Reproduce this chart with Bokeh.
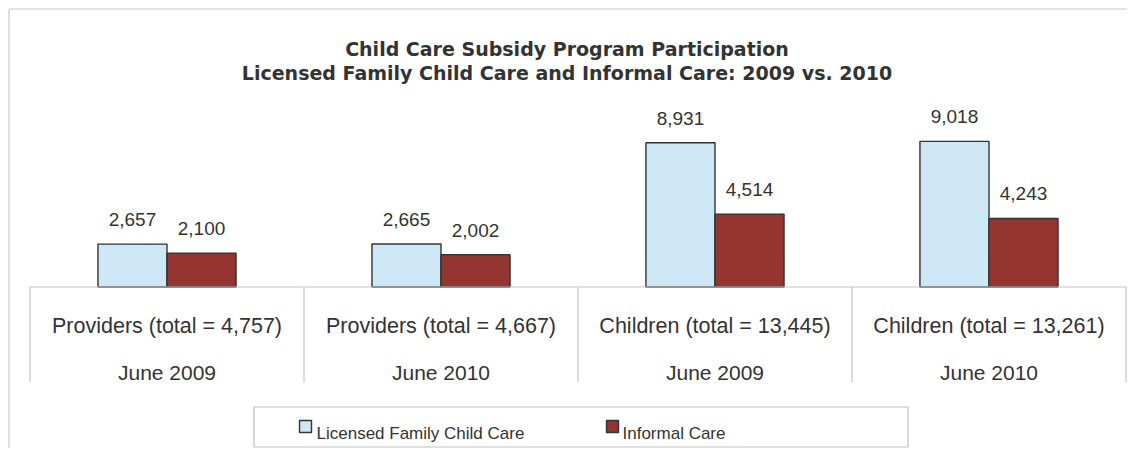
from bokeh.plotting import figure
from bokeh.models import Range1d, ColumnDataSource, LabelSet
from bokeh.core.properties import value
from bokeh.embed import file_html
from bokeh.resources import INLINE
import numpy as np

# ---- data ----
title_lines = ["Child Care Subsidy Program Participation",
               "Licensed Family Child Care and Informal Care: 2009 vs. 2010"]
measures = ["Providers (total = 4,757)", "Providers (total = 4,667)",
            "Children (total = 13,445)", "Children (total = 13,261)"]
periods = ["June 2009", "June 2010", "June 2009", "June 2010"]
series_names = ["Licensed Family Child Care", "Informal Care"]
licensed = [2657, 2665, 8931, 9018]
informal = [2100, 2002, 4514, 4243]

# ---- style ----
TEXT = "#333333"
BLUE = "#cde7f5"
RED = "#943532"
EDGE = "#333333"
GRID = "#c4c4c4"
FONT = "Liberation Sans"

W, H = 1127, 448
p = figure(width=W, height=H,
           x_range=Range1d(-0.1077, 4.0055),
           y_range=Range1d(-10000, 17740),
           output_backend="svg", toolbar_location=None, min_border=0)
p.axis.visible = False
p.grid.visible = False
p.outline_line_color = None
p.background_fill_color = "white"
p.border_fill_color = "white"
# canvas-pixel helper ranges for layout elements (title, table, legend)
p.extra_x_ranges = {"px": Range1d(0, W)}
p.extra_y_ranges = {"px": Range1d(H, 0)}

n = len(measures)
centers = np.arange(n) + 0.5
bw = 0.252
src = ColumnDataSource(dict(
    xb=centers - bw / 2, xr=centers + bw / 2,
    lic=licensed, inf=informal,
    lic_t=[f"{v:,}" for v in licensed], inf_t=[f"{v:,}" for v in informal],
))

# outer border (top and left visible)
p.segment(x0=[8.5, 8.5], y0=[8.5, 8.5], x1=[W, 8.5], y1=[8.5, H],
          x_range_name="px", y_range_name="px", line_color="#c8c8c8", line_width=1.2)

# bars
p.vbar(x="xb", top="lic", bottom=0, width=bw, source=src,
       fill_color=BLUE, line_color=EDGE, line_width=1.4)
p.vbar(x="xr", top="inf", bottom=0, width=bw, source=src,
       fill_color=RED, line_color=EDGE, line_width=1.4)

# value labels
for xcol, tcol, ycol in (("xb", "lic_t", "lic"), ("xr", "inf_t", "inf")):
    p.add_layout(LabelSet(x=xcol, y=ycol, text=tcol, source=src, y_offset=18,
                          text_align="center", text_baseline="alphabetic",
                          text_font=value(FONT), text_font_size="19px",
                          text_color=TEXT))

# category table
p.segment(x0=[0], y0=[0], x1=[n], y1=[0], line_color=GRID, line_width=1.2)
bounds = np.arange(n + 1)
p.segment(x0=bounds, y0=[286.5] * (n + 1), x1=bounds, y1=[382] * (n + 1),
          y_range_name="px", line_color=GRID, line_width=1.2)
p.text(x=centers, y=[325] * n, text=measures, y_range_name="px",
       text_align="center", text_baseline="alphabetic",
       text_font=value(FONT), text_font_size="21.5px", text_color=TEXT)
p.text(x=centers, y=[372] * n, text=periods, y_range_name="px",
       text_align="center", text_baseline="alphabetic",
       text_font=value(FONT), text_font_size="21px", text_color=TEXT)

# title
p.text(x=[566.5, 566.5], y=[48.5, 72.5], text=title_lines,
       x_range_name="px", y_range_name="px",
       text_align="center", text_baseline="alphabetic",
       text_font=value("DejaVu Sans"), text_font_style="bold",
       text_font_size="19px", text_color=TEXT)

# legend
p.quad(left=[253.5], right=[907.5], top=[406.5], bottom=[446.5],
       x_range_name="px", y_range_name="px",
       fill_color="white", line_color="#c0c0c0", line_width=1.2)
p.quad(left=[299, 606], right=[311, 618], top=[420, 420], bottom=[432, 432],
       x_range_name="px", y_range_name="px",
       fill_color=[BLUE, RED], line_color=EDGE, line_width=1.4)
p.text(x=[316, 622], y=[433, 433], text=series_names,
       x_range_name="px", y_range_name="px",
       text_align="left", text_baseline="alphabetic",
       text_font=value(FONT), text_font_size="17px", text_color=TEXT)

open("out.html", "w").write(file_html(p, INLINE))
